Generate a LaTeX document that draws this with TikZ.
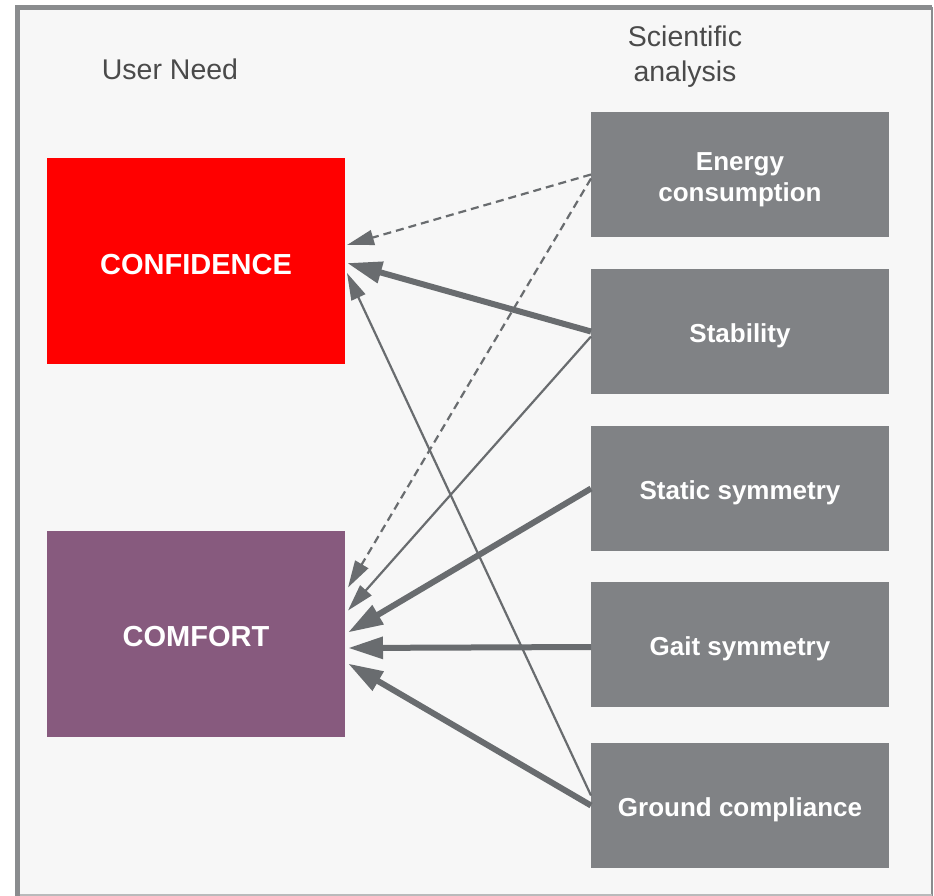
\documentclass[tikz,border=0pt]{standalone}
\usepackage{fontspec}
\setmainfont{Liberation Sans}
\usetikzlibrary{arrows.meta,positioning}

\definecolor{framegray}{HTML}{8A8C8E}
\definecolor{panelbg}{HTML}{F7F7F7}
\definecolor{boxgray}{HTML}{808285}
\definecolor{arrowgray}{HTML}{696C6F}
\definecolor{confred}{HTML}{FF0000}
\definecolor{comfpurple}{HTML}{875A7E}
\definecolor{headgray}{HTML}{4A4A4A}

\tikzset{
  needbox/.style={minimum width=298pt,minimum height=206pt,inner sep=0pt,outer sep=0pt,text height=26pt,text depth=0pt,text=white,font=\fontsize{29pt}{34pt}\selectfont\bfseries},
  anabox/.style={fill=boxgray,minimum width=298pt,minimum height=125pt,inner sep=0pt,outer sep=0pt,text height=21pt,text depth=0pt,text=white,align=center,font=\fontsize{26pt}{32pt}\selectfont\bfseries},
  headtext/.style={text=headgray,align=center,font=\fontsize{28.5pt}{35pt}\selectfont},
  link/.style={draw=arrowgray,line width=2.2pt,-{Triangle[length=27pt,width=15pt]}},
  strong/.style={draw=arrowgray,line width=6pt,-{Triangle[length=35pt,width=21pt]}},
  hint/.style={link,dash pattern=on 8pt off 5pt}
}

\begin{document}
\begin{tikzpicture}[x=1pt,y=-1pt]
\useasboundingbox (0,0) rectangle (934,896);

% panel
\fill [panelbg] (17,8) rectangle (932,896);
\draw [framegray,line width=5pt] (17.5,896) -- (17.5,7.5) -- (932,7.5);
\draw [framegray,line width=2pt] (932,7.5) -- (932,896);
\draw [framegray!60,line width=1.5pt] (20,895) -- (932,895);

\node [headtext] (need) at (170,69) {User Need};
\node [headtext] (sci) at (685,57) {Scientific\\analysis};

\begin{scope}
\node [needbox,fill=confred] (conf) at (196,261) {CONFIDENCE};
\node [needbox,fill=comfpurple] (comf) at (196,633.5) {COMFORT};
\end{scope}

\begin{scope}
\node [anabox,text height=55pt] (energy) at (740,174.5) {Energy\\consumption};
\node [anabox,anchor=north] (stab) at ([yshift=-32pt]energy.south) {Stability};
\node [anabox,anchor=north] (ssym) at ([yshift=-32pt]stab.south) {Static symmetry};
\node [anabox,anchor=north] (gsym) at ([yshift=-31pt]ssym.south) {Gait symmetry};
\node [anabox,anchor=north] (ground) at ([yshift=-36pt]gsym.south) {Ground compliance};
\end{scope}

\draw [hint] (energy.west) -- ([xshift=2pt,yshift=16pt]conf.east);
\draw [hint] ([yshift=-4pt]energy.west) -- ([xshift=3pt,yshift=46pt]comf.east);
\draw [strong] (stab.west) -- ([xshift=2pt,yshift=-2pt]conf.east);
\draw [link] ([yshift=-5pt]stab.west) -- ([xshift=3pt,yshift=23pt]comf.east);
\draw [strong] (ssym.west) -- ([xshift=3pt,yshift=1pt]comf.east);
\draw [strong] ([yshift=-2.5pt]gsym.west) -- ([xshift=3pt,yshift=-14.5pt]comf.east);
\draw [strong] (ground.west) -- ([xshift=3pt,yshift=-30pt]comf.east);
\draw [link] ([yshift=10pt]ground.west) -- ([xshift=2pt,yshift=-12pt]conf.east);

\end{tikzpicture}
\end{document}
